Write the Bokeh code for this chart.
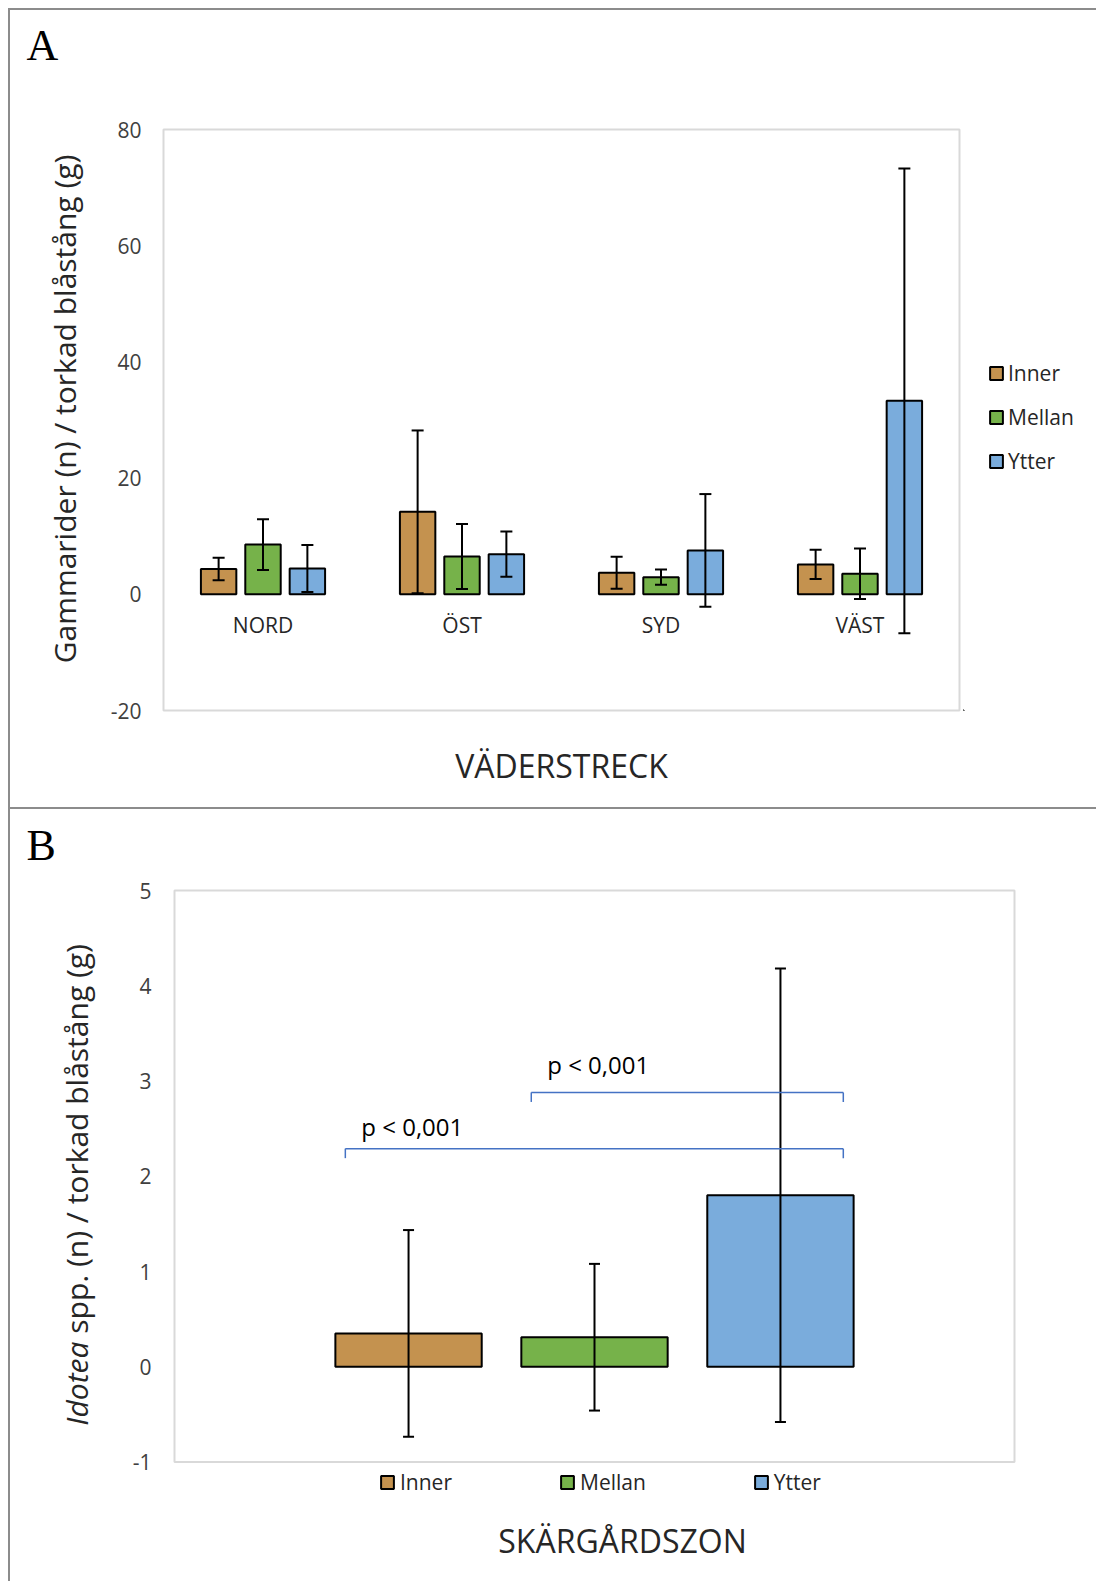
import math
from bokeh.plotting import figure
from bokeh.models import (ColumnDataSource, FactorRange, Range1d, Legend, LegendItem,
                          Title, FixedTicker, Spacer)
from bokeh.transform import dodge
from bokeh.layouts import column, row
from bokeh.embed import file_html
from bokeh.resources import INLINE
from bokeh.core.properties import value

# ---------------- data ----------------
directions = ["NORD", "ÖST", "SYD", "VÄST"]
zones = ["Inner", "Mellan", "Ytter"]

a_inner = [4.35, 14.2, 3.7, 5.15]
a_inner_sd = [1.95, 14.0, 2.75, 2.5]
a_mellan = [8.55, 6.5, 2.95, 3.55]
a_mellan_sd = [4.35, 5.6, 1.3, 4.35]
a_ytter = [4.45, 6.9, 7.55, 33.3]
a_ytter_sd = [4.05, 3.9, 9.7, 40.0]
a_yticks = [-20, 0, 20, 40, 60, 80]

b_mean = [0.35, 0.31, 1.80]
b_sd = [1.085, 0.77, 2.38]
b_yticks = [-1, 0, 1, 2, 3, 4, 5]

b_pair_from = ["Inner", "Mellan"]
b_pair_to = ["Ytter", "Ytter"]
b_pair_text = ["p < 0,001", "p < 0,001"]

# ---------------- styles / layout ----------------
FONT = "Open Sans"
SERIF = "Liberation Serif"
colors = ["#C4924F", "#76B24A", "#7AACDC"]
FRAME = "2px solid #8c8c8c"
BOXC = "#d9d9d9"
TXT = "#262626"
TICK = "#404040"
bracket_y = [2.29, 2.88]
bracket_text_y = [2.52, 3.17]

AUX_W = 95
HA, HB = 801, 772
# panel A (pixels)
A_W, A_TOP, A_BOT, A_LEFT, A_RIGHT = 860, 119, 101, 60, 4
AR_W = 133
# panel B (pixels)
B_W, B_TOP, B_BOT, B_LEFT, B_RIGHT = 993, 79, 0, 69, 80
B_BOX_INSET = 2          # gap between frame edge and drawn plot box (top/left/right)
B_BOX_H = 571.5          # height of the drawn plot box
B_UNIT_PX = 185.95       # px per category


def style_yaxis(ax, ticks, standoff):
    ax.ticker = FixedTicker(ticks=ticks)
    ax.major_label_overrides = {t: str(t) for t in ticks if t < 0}
    ax.axis_line_color = None
    ax.major_tick_line_color = None
    ax.minor_tick_line_color = None
    ax.major_tick_out = 0
    ax.major_tick_in = 0
    ax.major_label_standoff = standoff
    ax.major_label_text_font = FONT
    ax.major_label_text_font_size = "21px"
    ax.major_label_text_color = TICK


def strip(width, height, main, top, bot, styles):
    # helper figure whose frame lines up with the main panel's frame
    f = figure(width=width, height=height, output_backend="svg", toolbar_location=None,
               tools="", x_axis_location=None, y_axis_location=None,
               x_range=Range1d(0, width - 2), y_range=main.y_range,
               min_border_left=0, min_border_right=0, min_border_top=top,
               min_border_bottom=bot)
    f.grid.visible = False
    f.outline_line_color = None
    f.styles = styles
    return f


def panel_letter(fig, letter, gap):
    fig.add_layout(Title(text=" ", text_font_size="1px", standoff=gap), "above")
    fig.add_layout(Title(text=letter, align="left", offset=16, standoff=0,
                         vertical_align="middle", text_font=SERIF, text_font_size="44px",
                         text_font_style="normal", text_color="black"), "above")


# ================= Panel A =================
pA = figure(x_range=FactorRange(factors=directions), y_range=Range1d(-20, 80),
            width=A_W, height=HA, output_backend="svg", toolbar_location=None, tools="",
            min_border_left=A_LEFT, min_border_right=A_RIGHT,
            min_border_top=A_TOP, min_border_bottom=A_BOT)
pA.styles = {"border-top": FRAME, "border-bottom": FRAME}
pA.grid.visible = False
pA.outline_line_color = BOXC
pA.outline_line_width = 2
style_yaxis(pA.yaxis[0], a_yticks, 22)

xa = pA.xaxis[0]
xa.axis_line_color = None
xa.major_tick_line_color = None
xa.minor_tick_line_color = None
xa.major_tick_out = 0
xa.major_tick_in = 0
xa.major_label_standoff = 0
xa.major_label_overrides = {d: "" for d in directions}
xa.major_label_text_font_size = "1px"
xa.major_label_text_alpha = 0
xa.major_label_text_color = None
xa.axis_label = "VÄDERSTRECK"
xa.axis_label_text_font = FONT
xa.axis_label_text_font_size = "32px"
xa.axis_label_text_font_style = "normal"
xa.axis_label_text_color = TXT
xa.axis_label_standoff = 33

srcA = ColumnDataSource(dict(cat=directions))
for key, m, s in (("inner", a_inner, a_inner_sd), ("mellan", a_mellan, a_mellan_sd),
                  ("ytter", a_ytter, a_ytter_sd)):
    srcA.data[key] = m
    srcA.data[key + "_lo"] = [a - b for a, b in zip(m, s)]
    srcA.data[key + "_hi"] = [a + b for a, b in zip(m, s)]

offsets = [-0.223, 0.0, 0.223]
for key, col, off in zip(["inner", "mellan", "ytter"], colors, offsets):
    xs = dodge("cat", off, range=pA.x_range)
    pA.vbar(x=xs, top=key, bottom=0, width=0.178, source=srcA,
            fill_color=col, line_color="black", line_width=2)
    pA.segment(x0=xs, x1=xs, y0=key + "_lo", y1=key + "_hi", source=srcA,
               line_color="black", line_width=2)
    for end in ("_lo", "_hi"):
        pA.scatter(x=xs, y=key + end, source=srcA, marker="dash", size=12,
                   line_color="black", line_width=2)

pA.text(x="cat", y=0, text="cat", source=srcA, text_align="center",
        text_baseline="middle", y_offset=31, text_font=value(FONT),
        text_font_size="21px", text_color=TXT)

# left strip: panel letter + y title
auxA = strip(AUX_W, HA, pA, A_TOP, A_BOT,
             {"border-left": FRAME, "border-top": FRAME, "border-bottom": FRAME})
panel_letter(auxA, "A", 56)
auxA.text(x=[53], y=[31.9], text=["Gammarider (n) / torkad blåstång (g)"], angle=math.pi / 2,
          text_align="center", text_baseline="middle", text_font=value(FONT),
          text_font_size="30px", text_color=TXT)

# right strip: legend (swatches share the bar styling; their single mark lies far off-canvas)
auxAR = strip(AR_W, HA, pA, A_TOP, A_BOT, {"border-top": FRAME, "border-bottom": FRAME})
swatches = [auxAR.vbar(x=[-1000], top=[-1000], bottom=[-1001], width=1, fill_color=col,
                       line_color="black", line_width=2) for col in colors]
legA = Legend(items=[LegendItem(label=z, renderers=[r]) for z, r in zip(zones, swatches)],
              location=(25, 235), orientation="vertical", glyph_width=16, glyph_height=16,
              label_standoff=4, spacing=16, padding=0, margin=0, border_line_color=None,
              background_fill_alpha=0, label_text_font=FONT, label_text_font_size="21px",
              label_text_color=TXT)
auxAR.add_layout(legA)

# ================= Panel B =================
b_frame_w = B_W - B_LEFT - B_RIGHT
b_frame_h = HB - B_TOP - B_BOT
b_pad = b_frame_w / B_UNIT_PX - len(zones)          # total padding, in categories
b_ypp = (b_yticks[-1] - b_yticks[0]) / B_BOX_H
b_box_bottom_px = B_BOX_INSET + B_BOX_H
b_y_end = b_yticks[-1] + B_BOX_INSET * b_ypp
b_y_start = b_yticks[0] - (b_frame_h - b_box_bottom_px) * b_ypp

pB = figure(x_range=FactorRange(factors=zones, range_padding=b_pad / 2,
                                range_padding_units="absolute"),
            y_range=Range1d(b_y_start, b_y_end),
            width=B_W, height=HB, output_backend="svg", toolbar_location=None, tools="",
            x_axis_location=None, min_border_left=B_LEFT, min_border_right=B_RIGHT,
            min_border_top=B_TOP, min_border_bottom=B_BOT)
pB.grid.visible = False
pB.outline_line_color = None
style_yaxis(pB.yaxis[0], b_yticks, 21)

# plot box (the frame extends below it to hold legend and title)
b_box_l = -b_pad / 2 + B_BOX_INSET / B_UNIT_PX
b_box_r = len(zones) + b_pad / 2 - B_BOX_INSET / B_UNIT_PX
pB.quad(left=[b_box_l], right=[b_box_r], bottom=[b_yticks[0]], top=[b_yticks[-1]],
        fill_color=None, line_color=BOXC, line_width=2)

srcB = ColumnDataSource(dict(zone=zones, mean=b_mean,
                             lo=[a - b for a, b in zip(b_mean, b_sd)],
                             hi=[a + b for a, b in zip(b_mean, b_sd)],
                             color=colors))
rB = pB.vbar(x="zone", top="mean", bottom=0, width=0.787, source=srcB,
             fill_color="color", line_color="black", line_width=2)
pB.segment(x0="zone", x1="zone", y0="lo", y1="hi", source=srcB,
           line_color="black", line_width=2)
for end in ("lo", "hi"):
    pB.scatter(x="zone", y=end, source=srcB, marker="dash", size=11,
               line_color="black", line_width=2)

srcBr = ColumnDataSource(dict(frm=b_pair_from, to=b_pair_to, h=bracket_y,
                              h_low=[h - 0.1 for h in bracket_y], ty=bracket_text_y,
                              text=b_pair_text))
xl = dodge("frm", -0.34, range=pB.x_range)
xr = dodge("to", 0.338, range=pB.x_range)
BLUE = "#4472C4"
pB.segment(x0=xl, x1=xr, y0="h", y1="h", source=srcBr, line_color=BLUE, line_width=1.5)
pB.segment(x0=xl, x1=xl, y0="h", y1="h_low", source=srcBr, line_color=BLUE, line_width=1.5)
pB.segment(x0=xr, x1=xr, y0="h", y1="h_low", source=srcBr, line_color=BLUE, line_width=1.5)
pB.text(x=dodge("frm", 0.02, range=pB.x_range), y="ty", text="text", source=srcBr,
        text_align="center", text_baseline="middle", text_font=value(FONT),
        text_font_size="24px", text_color="black")

legB = Legend(items=[LegendItem(label=z, renderers=[rB], index=i) for i, z in enumerate(zones)],
              location=(207, 85), orientation="horizontal", glyph_width=16, glyph_height=16,
              label_standoff=5, spacing=107, padding=0, margin=0, border_line_color=None,
              background_fill_alpha=0, label_text_font=FONT, label_text_font_size="21px",
              label_text_color=TXT)
pB.add_layout(legB)

pB.text(x=[zones[1]], y=[-1.824], text=["SKÄRGÅRDSZON"], x_offset=28, text_align="center",
        text_baseline="middle", text_font=value(FONT), text_font_size="32px", text_color=TXT)

auxB = strip(AUX_W, HB, pB, B_TOP, B_BOT, {"border-left": FRAME})
panel_letter(auxB, "B", 15)
auxB.text(x=[64.7], y=[0.265], text=["Idotea"], angle=math.pi / 2, text_align="right",
          text_baseline="middle", text_font=value(FONT), text_font_size="30px",
          text_font_style="italic", text_color=TXT)
auxB.text(x=[64.7], y=[0.265], text=["\u00a0spp. (n) / torkad blåstång (g)"], angle=math.pi / 2,
          text_align="left", text_baseline="middle", text_font=value(FONT),
          text_font_size="30px", text_color=TXT)

p = column(Spacer(height=8),
           row(Spacer(width=8), column(row(auxA, pA, auxAR), row(auxB, pB))))
open("out.html", "w").write(file_html(p, INLINE))
